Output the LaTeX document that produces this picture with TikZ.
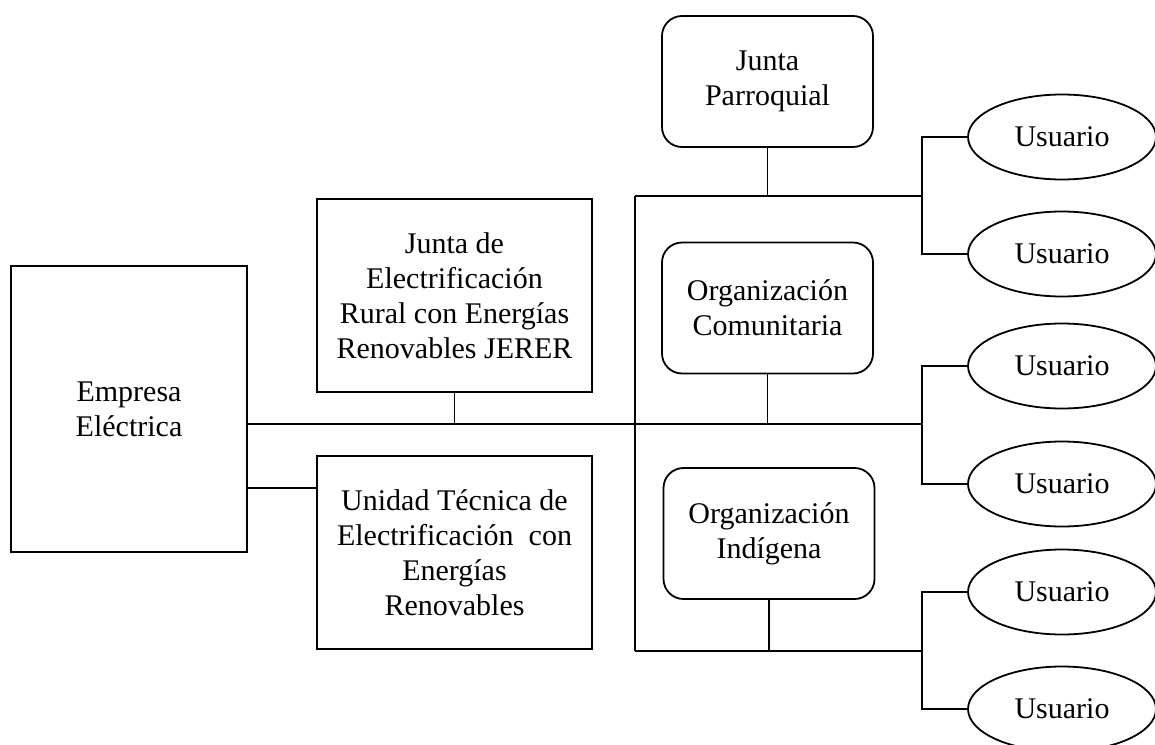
\documentclass[tikz,border=0pt]{standalone}
\usepackage{fontspec}
\setmainfont{Liberation Serif}
\usetikzlibrary{positioning,
	shapes,
	calc}

\begin{document}
\begin{tikzpicture}[x=0.5pt, y=-0.5pt, line width=0.9pt,
        font=\fontsize{15}{17.5}\selectfont,
        squarebox/.style={draw, rectangle, align=center, inner sep=0pt},
        roundbox/.style={draw, rectangle, rounded corners=10pt, align=center, inner sep=0pt, minimum width=105.5pt, minimum height=65.5pt},
        userbox/.style={draw, ellipse, inner sep=0pt, minimum width=94pt, minimum height=42.5pt}]
                            \useasboundingbox (0,0) rectangle (1155,744);
                            % left side
                            \node (empresa) [squarebox, minimum width=118pt, minimum height=143pt] at (129,409) {Empresa\\Eléctrica};
                            \node (jerer) [squarebox, minimum width=137.5pt, minimum height=96.5pt] at (454.5,295.5) {Junta de\\Electrificación\\Rural con Energías\\Renovables JERER};
                            \node (unidad) [squarebox, minimum width=137.5pt, minimum height=96.5pt] at (454.5,552.5) {Unidad Técnica de\\Electrificación~ con\\Energías\\Renovables};
                            % organizaciones
                            \node (parroquia) [roundbox] at (767.5,81.5) {Junta\\Parroquial};
                            \node (comunitaria) [roundbox] at (767.5,308) {Organización\\Comunitaria};
                            \node (indigena) [roundbox] at (769,533.5) {Organización\\Indígena};
                            % usuarios
                            \foreach \y [count=\i] in {137,254,366,484,592,709}
                                \node (user\i) [userbox] at (1062,\y) {Usuario};
                            % buses
                            \coordinate (mainend) at (922,424);
                            \coordinate (unidadin) at (317,488);
                            \coordinate (topL) at (635,196);
                            \coordinate (topR) at (922,196);
                            \coordinate (botL) at (635,651);
                            \coordinate (botR) at (922,651);
                            \draw (empresa.east |- mainend) -- (mainend);
                            \draw (empresa.east |- unidadin) -- (unidadin);
                            \draw (jerer.south) -- (jerer.south |- mainend);
                            \draw (topL) -- (botL);
                            \draw (topL) -- (topR);
                            \draw (botL) -- (botR);
                            \draw (parroquia.south) -- (parroquia.south |- topL);
                            \draw (comunitaria.south) -- (comunitaria.south |- mainend);
                            \draw (indigena.south) -- (indigena.south |- botL);
                            \foreach \a/\b in {1/2,3/4,5/6}
                                \draw (user\a.west) -| (user\b.west -| topR) -- (user\b.west);
                        \end{tikzpicture}
\end{document}
